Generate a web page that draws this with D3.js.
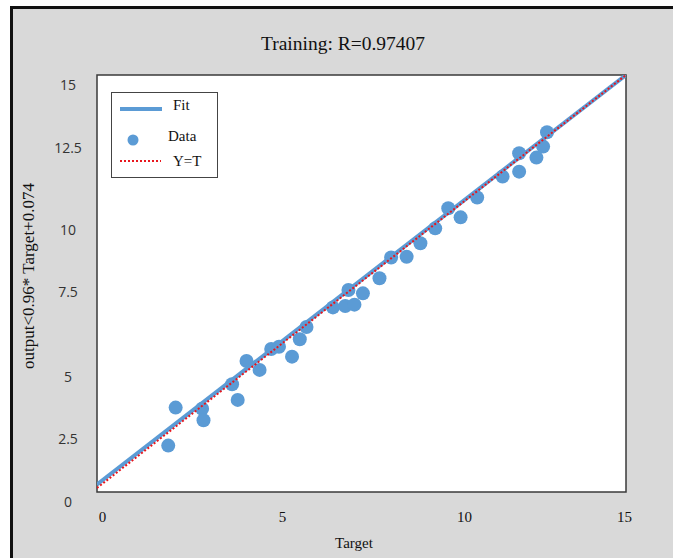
<!DOCTYPE html>
<html>
<head>
<meta charset="utf-8">
<script src="https://cdn.jsdelivr.net/npm/d3@7"></script>
<style>
  body { margin: 0; background: #fff; }
  svg { display: block; }
</style>
</head>
<body>
<div id="chart"></div>
<script>
// data
var targets = [2.02, 2.23, 2.98, 3.02, 3.83, 3.99, 4.24, 4.61, 4.94, 5.16, 5.53, 5.75, 5.94, 6.69, 7.04, 7.13,
               7.30, 7.54, 8.01, 8.34, 8.78, 9.17, 9.59, 9.96, 10.31, 10.78, 11.50, 11.97, 11.97, 12.46, 12.65, 12.76];
var outputs = [1.54, 2.92, 2.88, 2.46, 3.77, 3.20, 4.61, 4.29, 5.05, 5.13, 4.77, 5.40, 5.85, 6.56, 6.61, 7.19,
               6.66, 7.07, 7.62, 8.37, 8.40, 8.89, 9.43, 10.16, 9.83, 10.55, 11.31, 11.49, 12.16, 12.00, 12.40, 12.92];
var fitX = [0, 15];
var fitY = [0.13, 15];
var identX = [0, 15];
var identY = [0, 15];

var yTickLabels = ["0", "2.5", "5", "7.5", "10", "12.5", "15"];
var yTickValues = [0, 2.5, 5, 7.5, 10, 12.5, 15];
var xTickLabels = ["0", "5", "10", "15"];
var xTickValues = [0, 5, 10, 15];

var legendItems = ["Fit", "Data", "Y=T"];

var width = 673, height = 558;
var box = { left: 97, right: 626, top: 75, bottom: 492 };
var blue = "#5b9bd5";

var svg = d3.select("#chart")
    .append("svg")
    .attr("width", width)
    .attr("height", height);

// grey frame with black top / left edge
svg.append("rect")
    .attr("x", 12).attr("y", 8)
    .attr("width", width - 12).attr("height", height - 8)
    .attr("fill", "#d9d9d9");
svg.append("line")
    .attr("x1", 10).attr("x2", width).attr("y1", 7.5).attr("y2", 7.5)
    .attr("stroke", "#111").attr("stroke-width", 3);
svg.append("line")
    .attr("x1", 11.5).attr("x2", 11.5).attr("y1", 6).attr("y2", height)
    .attr("stroke", "#111").attr("stroke-width", 3);

// scales
var xScale = d3.scaleLinear().domain([0, 15]).range([box.left, box.right]);
var yScale = d3.scaleLinear().domain([0, 15]).range([488, box.top]);

// label positions in the picture are not evenly spaced
var yLabelScale = d3.scaleLinear().domain(yTickValues).range([502, 439, 377, 292, 230, 148, 85]);
var xLabelScale = d3.scaleLinear().domain(xTickValues).range([102, 282, 464, 624]);

// plot area
svg.append("rect")
    .attr("x", box.left).attr("y", box.top)
    .attr("width", box.right - box.left).attr("height", box.bottom - box.top)
    .attr("fill", "#fff")
    .attr("stroke", "#3a3a3a")
    .attr("stroke-width", 1.5);

svg.append("clipPath").attr("id", "clip")
  .append("rect")
    .attr("x", box.left).attr("y", box.top)
    .attr("width", box.right - box.left).attr("height", box.bottom - box.top);

var plot = svg.append("g").attr("clip-path", "url(#clip)");

var line = d3.line().x(d => xScale(d[0])).y(d => yScale(d[1]));

plot.selectAll("circle.pt")
    .data(d3.zip(targets, outputs))
    .enter()
    .append("circle")
    .attr("class", "pt")
    .attr("cx", d => xScale(d[0]))
    .attr("cy", d => yScale(d[1]))
    .attr("r", 7)
    .attr("fill", blue);

plot.append("path")
    .datum(d3.zip(fitX, fitY))
    .attr("d", line)
    .attr("fill", "none")
    .attr("stroke", blue)
    .attr("stroke-width", 4);

plot.append("path")
    .datum(d3.zip(identX, identY))
    .attr("d", line)
    .attr("fill", "none")
    .attr("stroke", "#e8161d")
    .attr("stroke-width", 2)
    .attr("stroke-dasharray", "2,2");

// y tick labels
var yAxis = svg.append("g")
    .call(d3.axisLeft(yLabelScale).tickValues(yTickValues).tickSize(0).tickFormat((d, i) => yTickLabels[i]));
yAxis.select(".domain").remove();
yAxis.selectAll("text")
    .attr("x", 68)
    .attr("text-anchor", "middle")
    .attr("fill", "#333")
    .style("font-family", "'Open Sans', 'Noto Sans', sans-serif")
    .style("font-size", "14px");

// x tick labels
var xAxis = svg.append("g")
    .attr("transform", "translate(0, 508)")
    .call(d3.axisBottom(xLabelScale).tickValues(xTickValues).tickSize(0).tickFormat((d, i) => xTickLabels[i]));
xAxis.select(".domain").remove();
xAxis.selectAll("text")
    .attr("y", 0)
    .attr("dy", "0.9em")
    .attr("fill", "#111")
    .style("font-family", "'Liberation Serif', 'Times New Roman', serif")
    .style("font-size", "15px");

// title and axis titles
svg.append("text")
    .attr("x", 343).attr("y", 50)
    .attr("text-anchor", "middle")
    .style("font-family", "'Liberation Serif', 'Times New Roman', serif")
    .style("font-size", "19.5px")
    .attr("fill", "#111")
    .text("Training: R=0.97407");

svg.append("text")
    .attr("x", 354).attr("y", 548)
    .attr("text-anchor", "middle")
    .style("font-family", "'Liberation Serif', 'Times New Roman', serif")
    .style("font-size", "15px")
    .attr("fill", "#111")
    .text("Target");

svg.append("text")
    .attr("transform", "translate(34, 276) rotate(-90)")
    .attr("text-anchor", "middle")
    .style("font-family", "'Liberation Serif', 'Times New Roman', serif")
    .style("font-size", "17px")
    .attr("fill", "#111")
    .text("output<0.96* Target+0.074");

// legend
var legend = svg.append("g");
legend.append("rect")
    .attr("x", 111.5).attr("y", 92.5)
    .attr("width", 106).attr("height", 85)
    .attr("fill", "#fff")
    .attr("stroke", "#444")
    .attr("stroke-width", 1);

legend.append("line")
    .attr("x1", 120).attr("x2", 162).attr("y1", 109).attr("y2", 109)
    .attr("stroke", blue).attr("stroke-width", 4);
legend.append("circle")
    .attr("cx", 133).attr("cy", 140).attr("r", 5.5)
    .attr("fill", blue);
legend.append("line")
    .attr("x1", 120).attr("x2", 161).attr("y1", 161).attr("y2", 161)
    .attr("stroke", "#e8161d").attr("stroke-width", 2).attr("stroke-dasharray", "2,2");

legend.selectAll("text.lg")
    .data(legendItems)
    .enter()
    .append("text")
    .attr("class", "lg")
    .attr("x", (d, i) => [173, 168, 173][i])
    .attr("y", (d, i) => [105, 136, 161][i])
    .attr("dy", "0.35em")
    .style("font-family", "'Liberation Serif', 'Times New Roman', serif")
    .style("font-size", "15px")
    .attr("fill", "#111")
    .text(d => d);
</script>
</body>
</html>
